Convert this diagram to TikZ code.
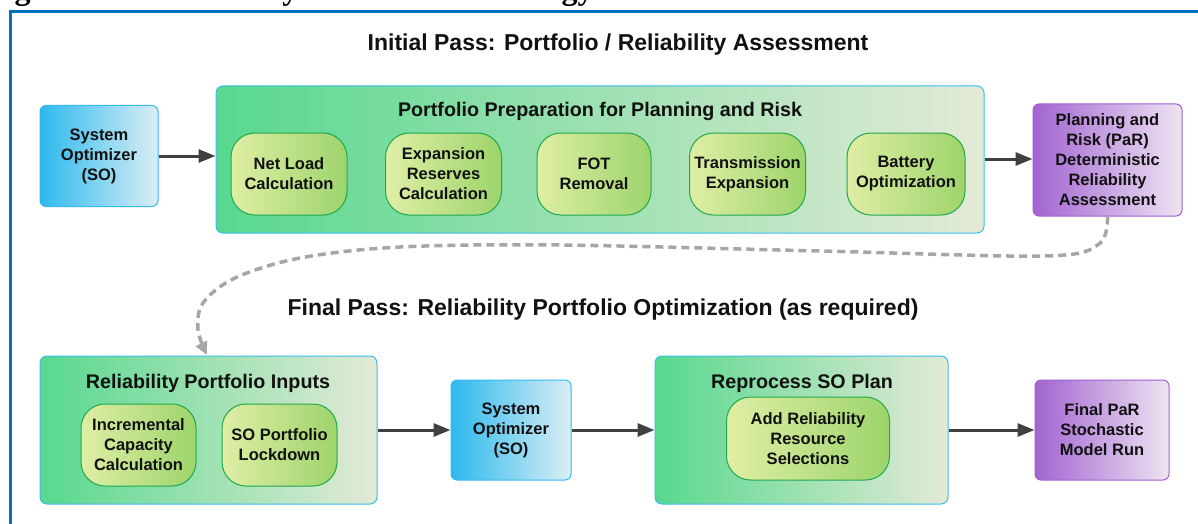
\documentclass[tikz,border=0pt]{standalone}
\usepackage{fontspec}
\setmainfont{Liberation Sans}
\newfontfamily\capfont{Liberation Serif}
\usetikzlibrary{arrows.meta}
\definecolor{frameblue}{HTML}{0070C0}
\definecolor{soL}{HTML}{2DB9EE}
\definecolor{soR}{HTML}{DAEEF4}
\definecolor{soB}{HTML}{33BBEE}
\definecolor{gL}{HTML}{58D88E}
\definecolor{gR}{HTML}{E3EAD6}
\definecolor{gB}{HTML}{38BDEE}
\definecolor{pL}{HTML}{DFEEA5}
\definecolor{pR}{HTML}{9DD46B}
\definecolor{pB}{HTML}{1FA94F}
\definecolor{vL}{HTML}{A264D2}
\definecolor{vR}{HTML}{EEE4F2}
\definecolor{vB}{HTML}{A060D0}
\definecolor{arrowgray}{HTML}{404040}
\definecolor{dashgray}{HTML}{A6A6A6}
\definecolor{txt}{HTML}{111111}
\tikzset{
  boxfont/.style={font=\bfseries\fontsize{16.5}{20}\selectfont, text=txt},
  sobox/.style={draw=soB, line width=1pt, rounded corners=6pt, left color=soL, right color=soR, inner sep=0pt, align=center, boxfont},
  parbox/.style={draw=vB, line width=1pt, rounded corners=6pt, left color=vL, right color=vR, inner sep=0pt, align=center, boxfont},
  container/.style={draw=gB, line width=1pt, rounded corners=7pt, left color=gL, right color=gR, inner sep=0pt},
  pill/.style={draw=pB, line width=1pt, rounded corners=24pt, left color=pL, right color=pR, inner sep=0pt, align=center, boxfont},
  subtitle/.style={font=\bfseries\fontsize{19.7}{24}\selectfont, text=txt, inner sep=0pt},
  maintitle/.style={font=\bfseries\fontsize{23}{28}\selectfont, text=txt, inner sep=0pt},
  conn/.style={draw=arrowgray, line width=3pt, -{Triangle[length=17pt,width=13pt]}},
  dashconn/.style={draw=dashgray, line width=3.5pt, dash pattern=on 8pt off 5pt, -{Triangle[length=13pt,width=12pt]}},
}
\begin{document}
\begin{tikzpicture}[x=1pt,y=-1pt]
\useasboundingbox (0,0) rectangle (1198,524);
\fill[white] (0,0) rectangle (1198,524);
\begin{scope}
\clip (0,0) rectangle (1198,524);
\node[anchor=base west, inner sep=0pt, font=\capfont\bfseries\fontsize{32}{36}\selectfont] (cap) at (-14,-0.5) {Figure 8.1 – Reliability Studies Methodology Process};
\draw[frameblue, line width=3.6pt] (10.3,530) -- (10.3,11.5) -- (1205,11.5);
\end{scope}

% titles
\node[maintitle] (t1) at (618,45) {Initial Pass: Portfolio / Reliability Assessment};
\node[maintitle] (t2) at (603,310) {Final Pass: Reliability Portfolio Optimization (as required)};

% top row
\node[sobox, minimum width=118pt, minimum height=101pt] (so1) at (99,156) {System\\Optimizer\\(SO)};
\node[container, minimum width=768pt, minimum height=147pt] (prep) at (600,159.5) {};
\node[subtitle] (prept) at (600,111) {Portfolio Preparation for Planning and Risk};
\node[pill, minimum width=116pt, minimum height=82pt] (nl) at (289,174) {Net Load\\Calculation};
\node[pill, minimum width=116pt, minimum height=82pt] (er) at (443.5,174) {Expansion\\Reserves\\Calculation};
\node[pill, minimum width=114pt, minimum height=82pt] (fot) at (594,174) {FOT\\Removal};
\node[pill, minimum width=116pt, minimum height=82pt] (tx) at (747.5,174) {Transmission\\Expansion};
\node[pill, minimum width=118pt, minimum height=82pt] (bat) at (906,174) {Battery\\Optimization};
\node[parbox, minimum width=149pt, minimum height=112pt] (par) at (1107.5,160) {Planning and\\Risk (PaR)\\Deterministic\\Reliability\\Assessment};

\draw[conn] (so1.east) -- (so1.east -| prep.west);
\draw[conn] (prep.east |- 0,159) -- (par.west |- 0,159);

% bottom row
\node[container, minimum width=337pt, minimum height=148pt] (rpi) at (208.5,430) {};
\node[subtitle] (rpit) at (208,383) {Reliability Portfolio Inputs};
\node[pill, minimum width=115pt, minimum height=82pt] (inc) at (138.5,445) {Incremental\\Capacity\\Calculation};
\node[pill, minimum width=115pt, minimum height=82pt] (lock) at (279.5,445) {SO Portfolio\\Lockdown};
\node[sobox, minimum width=120pt, minimum height=100pt] (so2) at (511,430) {System\\Optimizer\\(SO)};
\node[container, minimum width=293pt, minimum height=148pt] (rep) at (801.5,430) {};
\node[subtitle] (rept) at (802,383) {Reprocess SO Plan};
\node[pill, minimum width=163pt, minimum height=83pt] (add) at (808,438.5) {Add Reliability\\Resource\\Selections};
\node[parbox, minimum width=134pt, minimum height=100pt] (fin) at (1102,430) {Final PaR\\Stochastic\\Model Run};

\draw[conn] (rpi.east) -- (so2.west);
\draw[conn] (so2.east) -- (rep.west);
\draw[conn] (rep.east) -- (fin.west);

% dashed loop connector
\coordinate (ep) at (207,355);
\draw[dashconn] plot[smooth, tension=0.55] coordinates {(par.south) (1099,244) (1045,256) (820,251) (560,245) (400,247) (300,258) (235,278) (203,303) (198,330) (ep)};
\end{tikzpicture}
\end{document}
